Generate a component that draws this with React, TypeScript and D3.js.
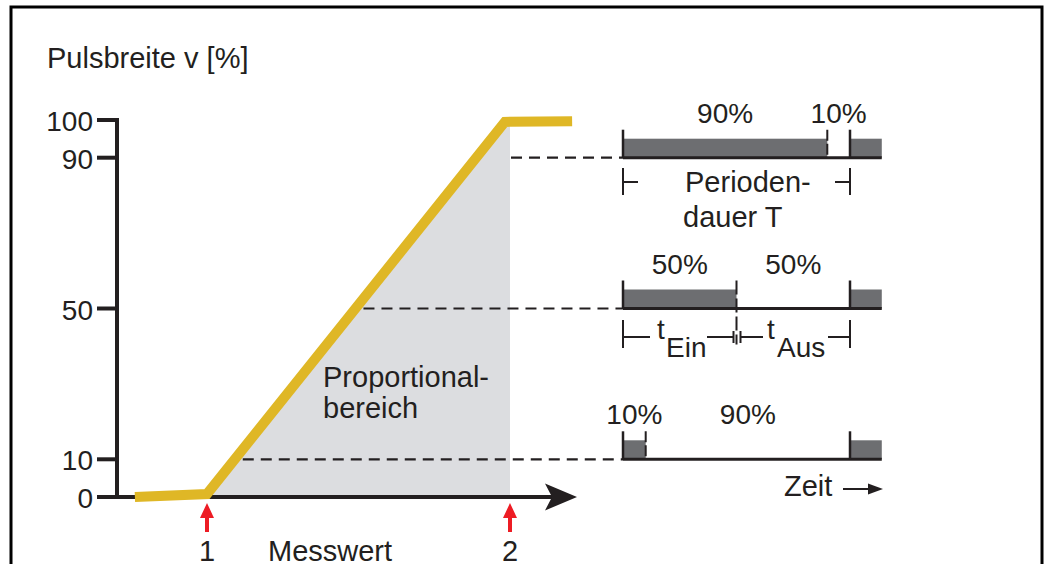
import React from "react";
import * as d3 from "d3";

// ---- data ----
const yTicks = [0, 10, 50, 90, 100];
const yLabel = "Pulsbreite v [%]";
const xLabel = "Messwert";
// Messwert (marker units) vs Pulsbreite [%]
const curveX = [0.762, 1.0, 1.983, 2.205];
const curveY = [0, 0.8, 99.5, 99.7];
const markers = [1, 2];
const markerLabels = ["1", "2"];
const guideLevels = [90, 50, 10];
const dutyOn = [90, 50, 10];
const dutyOff = [10, 50, 90];
const areaLabel = ["Proportional-", "bereich"];
const periodLabel = ["Perioden-", "dauer T"];
const timeLabel = "Zeit";

const W = 1049;
const H = 564;
const FONT = "'Liberation Sans', Arial, Helvetica, sans-serif";
const BLACK = "#231f20";
const YELLOW = "#dfb726";
const AREA = "#dcdde0";
const BAR = "#6d6e71";
const RED = "#ed1c24";

export default function App() {
  const y = d3.scaleLinear().domain([0, 100]).range([497, 120]);
  const x = d3.scaleLinear().domain([1, 2]).range([207, 510]);
  const p = d3.scaleLinear().domain([0, 100]).range([623, 850]); // period in %

  const curve = curveX.map((cx, i) => [cx, curveY[i]] as [number, number]);
  const line = d3
    .line<[number, number]>()
    .x((d) => x(d[0]))
    .y((d) => y(d[1]));

  // area between marker 1 and marker 2 under the curve
  const interp = (v: number) => {
    for (let i = 0; i < curve.length - 1; i++) {
      const [x0, y0] = curve[i];
      const [x1, y1] = curve[i + 1];
      if (v >= x0 && v <= x1) return y0 + ((v - x0) / (x1 - x0)) * (y1 - y0);
    }
    return curve[curve.length - 1][1];
  };
  const areaPts: [number, number][] = [
    [markers[0], interp(markers[0])],
    ...curve.filter((d) => d[0] > markers[0] && d[0] < markers[1]),
    [markers[1], interp(markers[1])],
  ];
  const area = d3
    .area<[number, number]>()
    .x((d) => x(d[0]))
    .y0(y(0))
    .y1((d) => y(d[1]));

  // x on curve for a given level (rising segment)
  const invert = (level: number) => {
    const [x0, y0] = curve[1];
    const [x1, y1] = curve[2];
    return x0 + ((level - y0) / (y1 - y0)) * (x1 - x0);
  };

  const axisLeftX = 117;
  const axisEndX = 577;

  return (
    <svg
      width={W}
      height={H}
      style={{ position: "absolute", left: 0, top: 0, background: "#fff" }}
      fontFamily={FONT}
    >
      {/* frame */}
      <path d={`M11,${H + 5} L11,7 L1042,7 L1042,${H + 5}`} fill="none" stroke="#000" strokeWidth={3} />

      {/* axis title */}
      <text x={47} y={68} fontSize={29} fill={BLACK}>
        {yLabel}
      </text>

      {/* proportional area */}
      <path d={area(areaPts) || ""} fill={AREA} />

      {/* guide dashed lines */}
      {guideLevels.map((lv) => {
        const start = lv >= 90 ? x(markers[1]) + 1 : x(invert(lv)) + 8;
        return (
          <line
            key={lv}
            x1={start}
            x2={p(0)}
            y1={y(lv)}
            y2={y(lv)}
            stroke={BLACK}
            strokeWidth={2.2}
            strokeDasharray="11,7"
          />
        );
      })}

      {/* area label */}
      <text x={323} y={387} fontSize={29} fill={BLACK}>
        {areaLabel[0]}
      </text>
      <text x={323} y={418} fontSize={29} fill={BLACK}>
        {areaLabel[1]}
      </text>

      {/* y axis */}
      <line x1={axisLeftX} x2={axisLeftX} y1={y(100) - 2} y2={y(0) + 2} stroke={BLACK} strokeWidth={4} />
      {yTicks.map((t) => (
        <g key={t}>
          <line x1={97} x2={axisLeftX + 2} y1={y(t)} y2={y(t)} stroke={BLACK} strokeWidth={4} />
          <text x={93} y={y(t) + 11} fontSize={28} textAnchor="end" fill={BLACK}>
            {t}
          </text>
        </g>
      ))}

      {/* x axis with arrow */}
      <line x1={axisLeftX} x2={axisEndX - 25} y1={y(0)} y2={y(0)} stroke={BLACK} strokeWidth={4} />
      <path
        d={`M${axisEndX - 32},${y(0) - 13.5} L${axisEndX},${y(0)} L${axisEndX - 32},${y(0) + 13.5} L${axisEndX - 25},${y(0)} Z`}
        fill={BLACK}
      />

      {/* curve */}
      <path d={line(curve) || ""} fill="none" stroke={YELLOW} strokeWidth={10} strokeLinejoin="miter" />

      {/* markers */}
      {markers.map((m, i) => (
        <g key={m}>
          <path d={`M${x(m)},503 L${x(m) + 7},518 L${x(m) - 7},518 Z`} fill={RED} />
          <rect x={x(m) - 2} y={516} width={4} height={16} fill={RED} />
          <text x={x(m)} y={561} fontSize={29} textAnchor="middle" fill={BLACK}>
            {markerLabels[i]}
          </text>
        </g>
      ))}
      <text x={268} y={561} fontSize={29} fill={BLACK}>
        {xLabel}
      </text>

      {/* pulse diagrams */}
      {dutyOn.map((on, i) => {
        const base = y(guideLevels[i]);
        const top = base - 19;
        const tickTop = base - 28;
        const endX = p(114);
        return (
          <g key={i}>
            <rect x={p(0)} y={top} width={p(on) - p(0)} height={19} fill={BAR} />
            <rect x={p(100)} y={top} width={endX - p(100)} height={19} fill={BAR} />
            <line x1={p(0)} x2={endX} y1={base} y2={base} stroke={BLACK} strokeWidth={3} />
            <line x1={p(0)} x2={p(0)} y1={tickTop} y2={base} stroke={BLACK} strokeWidth={2.5} />
            <line x1={p(100)} x2={p(100)} y1={tickTop} y2={base} stroke={BLACK} strokeWidth={2.5} />
            <line
              x1={p(on)}
              x2={p(on)}
              y1={tickTop}
              y2={on === 50 ? base + 36 : base}
              stroke={BLACK}
              strokeWidth={2}
              strokeDasharray={on === 50 ? "14,4" : "11,3"}
            />
            <text x={p(on / 2)} y={base - 35} fontSize={28} textAnchor="middle" fill={BLACK}>
              {on}%
            </text>
            <text x={p(on + dutyOff[i] / 2)} y={base - 35} fontSize={28} textAnchor="middle" fill={BLACK}>
              {dutyOff[i]}%
            </text>
          </g>
        );
      })}

      {/* period bracket */}
      {(() => {
        const by = 182;
        return (
          <g stroke={BLACK} strokeWidth={2}>
            <line x1={p(0)} x2={p(0)} y1={168} y2={195} />
            <line x1={p(0)} x2={p(0) + 15} y1={by} y2={by} />
            <line x1={p(100)} x2={p(100)} y1={168} y2={195} />
            <line x1={p(100) - 15} x2={p(100)} y1={by} y2={by} />
          </g>
        );
      })()}
      <text x={685} y={192} fontSize={29} fill={BLACK}>
        {periodLabel[0]}
      </text>
      <text x={683} y={227} fontSize={29} fill={BLACK}>
        {periodLabel[1]}
      </text>

      {/* t_Ein / t_Aus bracket */}
      {(() => {
        const by = 337;
        const mid = p(50);
        return (
          <g>
            <g stroke={BLACK} strokeWidth={2}>
              <line x1={p(0)} x2={p(0)} y1={320} y2={348} />
              <line x1={p(0)} x2={p(0) + 27} y1={by} y2={by} />
              <line x1={707} x2={mid - 3} y1={by} y2={by} />
              <line x1={mid - 3} x2={mid - 3} y1={331} y2={343} />
              <line x1={mid + 4} x2={mid + 4} y1={331} y2={343} />
              <line x1={mid + 4} x2={763} y1={by} y2={by} />
              <line x1={828} x2={p(100)} y1={by} y2={by} />
              <line x1={p(100)} x2={p(100)} y1={320} y2={348} />
            </g>
            <text x={657} y={339} fontSize={28} fill={BLACK}>
              t
            </text>
            <text x={666} y={357} fontSize={28} fill={BLACK}>
              Ein
            </text>
            <text x={767} y={339} fontSize={28} fill={BLACK}>
              t
            </text>
            <text x={777} y={357} fontSize={28} fill={BLACK}>
              Aus
            </text>
          </g>
        );
      })()}

      {/* time arrow */}
      <text x={784} y={496} fontSize={29} fill={BLACK}>
        {timeLabel}
      </text>
      <line x1={843} x2={872} y1={489} y2={489} stroke={BLACK} strokeWidth={2} />
      <path d="M868,483.5 L883,489 L868,494.5 Z" fill={BLACK} />
    </svg>
  );
}
